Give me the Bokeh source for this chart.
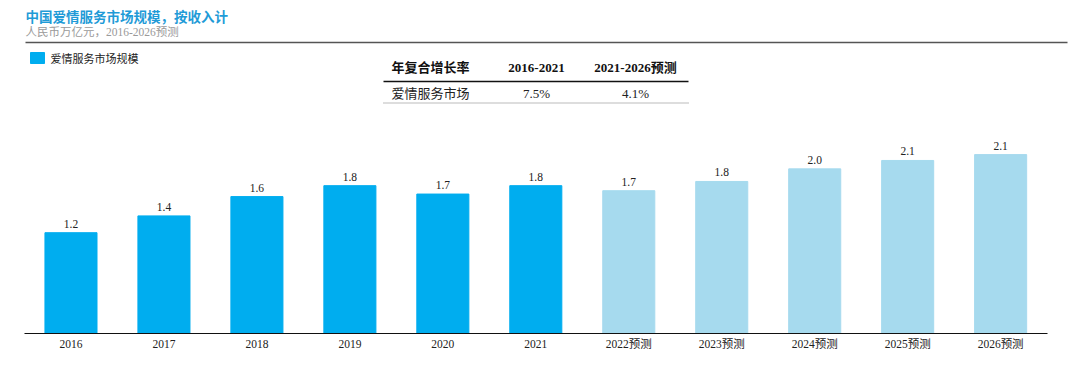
from bokeh.plotting import figure
from bokeh.models import Range1d, FixedTicker, Label, ColumnDataSource
from bokeh.core.properties import value
from bokeh.embed import file_html
from bokeh.resources import INLINE

# ---- data ----
years = ["2016", "2017", "2018", "2019", "2020", "2021",
         "2022预测", "2023预测", "2024预测", "2025预测", "2026预测"]
market = [1.20, 1.40, 1.63, 1.76, 1.66, 1.76, 1.70, 1.81, 1.96, 2.06, 2.13]
is_forecast = [False] * 6 + [True] * 5
cagr_header = ["年复合增长率", "2016-2021", "2021-2026预测"]
cagr_row = ["爱情服务市场", "7.5%", "4.1%"]

title_text = "中国爱情服务市场规模，按收入计"
subtitle_text = "人民币万亿元，2016-2026预测"
legend_text = "爱情服务市场规模"

ACTUAL = "#00adef"
FORECAST = "#a6daee"
SERIF = "Liberation Serif, Noto Sans CJK SC"
CJK = "Noto Sans CJK SC"

# ---- layout helpers (page pixels -> data coords) ----
W, H = 1080, 366
ML, MR, MB = 24, 12, 33
XMAX = 10.73
STEP = (W - ML - MR) / (XMAX + 0.5)
PPU = 84.0
YMAX = (H - MB) / PPU


def px2x(px):
    return -0.5 + (px - ML) / STEP


def py2y(py):
    return (H - MB - py) / PPU


p = figure(width=W, height=H, output_backend="svg", toolbar_location=None,
           x_range=Range1d(-0.5, XMAX), y_range=Range1d(0, YMAX),
           min_border_left=ML, min_border_right=MR, min_border_top=0,
           min_border_bottom=MB)
p.outline_line_color = None
p.grid.visible = False
p.yaxis.visible = False
p.background_fill_color = "white"

xs = list(range(len(years)))
src = ColumnDataSource(dict(
    x=xs, top=market,
    color=[FORECAST if f else ACTUAL for f in is_forecast],
    label=[f"{v:.1f}" for v in market],
))
p.vbar(x="x", top="top", width=0.56, bottom=0, color="color", source=src)
p.text(x="x", y="top", text="label", source=src, text_align="center",
       text_baseline="bottom", y_offset=-5, text_font=value("Liberation Serif"),
       text_font_size="11.5px", text_color="#222222")

ax = p.xaxis[0]
ax.ticker = FixedTicker(ticks=xs)
ax.major_label_overrides = {i: y for i, y in zip(xs, years)}
ax.bounds = (-0.5, 10.5)
ax.major_tick_line_color = None
ax.major_tick_out = 0
ax.major_tick_in = 0
ax.minor_tick_line_color = None
ax.minor_tick_out = 0
ax.major_label_standoff = 4
ax.axis_line_color = "#111111"
ax.axis_line_width = 1.2
ax.major_label_text_font = SERIF
ax.major_label_text_font_size = "11.5px"
ax.major_label_text_color = "#222222"

# ---- titles ----
p.add_layout(Label(x=px2x(25), y=py2y(15), text=title_text, text_font=CJK,
                   text_font_size="13.5px", text_font_style="bold",
                   text_color="#1f9bd7", text_baseline="middle"))
p.add_layout(Label(x=px2x(25), y=py2y(31), text=subtitle_text, text_font=SERIF,
                   text_font_size="11.5px", text_color="#9a9a9a",
                   text_baseline="middle"))
p.segment(x0=[px2x(25)], y0=[py2y(42)], x1=[px2x(1067)], y1=[py2y(42)],
          line_color="#555555", line_width=1.3)

# ---- legend ----
p.rect(x=[px2x(37)], y=[py2y(57.5)], width=14, height=11,
       width_units="screen", height_units="screen", color=ACTUAL)
p.add_layout(Label(x=px2x(50), y=py2y(57.5), text=legend_text, text_font=CJK,
                   text_font_size="11px", text_color="#222222",
                   text_baseline="middle"))

# ---- CAGR table ----
col_x = [430, 536, 635]
for cx, t in zip(col_x, cagr_header):
    p.add_layout(Label(x=px2x(cx), y=py2y(67), text=t, text_font=SERIF,
                       text_font_size="13px", text_font_style="bold",
                       text_color="#111111", text_align="center",
                       text_baseline="middle"))
for cx, t in zip(col_x, cagr_row):
    p.add_layout(Label(x=px2x(cx), y=py2y(93), text=t, text_font=SERIF,
                       text_font_size="13px", text_color="#222222",
                       text_align="center", text_baseline="middle"))
p.segment(x0=[px2x(383)], y0=[py2y(81)], x1=[px2x(688)], y1=[py2y(81)],
          line_color="#111111", line_width=1.5)
p.segment(x0=[px2x(383)], y0=[py2y(102.5)], x1=[px2x(688)], y1=[py2y(102.5)],
          line_color="#777777", line_width=1, line_dash="1 1")

open("out.html", "w").write(file_html(p, INLINE))
